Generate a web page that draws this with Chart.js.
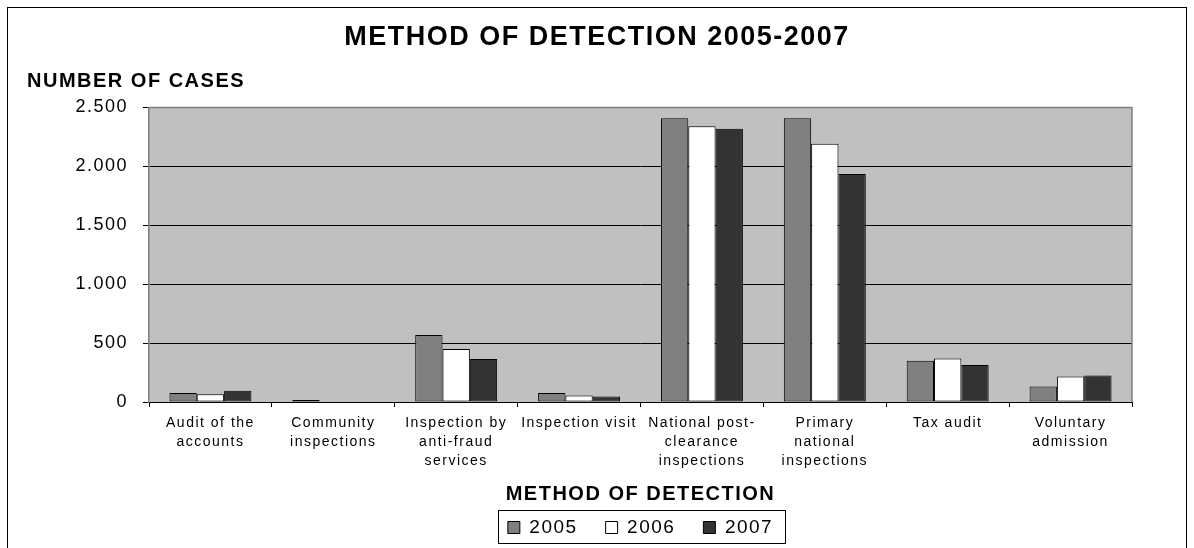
<!DOCTYPE html>
<html>
<head>
<meta charset="utf-8">
<script src="https://cdn.jsdelivr.net/npm/chart.js@4.4.1/dist/chart.umd.min.js"></script>
<style>
  html, body { margin: 0; padding: 0; background: #fff; }
  #wrap { position: relative; width: 1194px; height: 548px; overflow: hidden; }
  #frame { position: absolute; left: 7px; top: 7px; width: 1178px; height: 600px; border: 1.5px solid #000; }
  #chart { position: absolute; left: 0; top: 0; }
</style>
</head>
<body>
<div id="wrap">
  <div id="frame"></div>
  <canvas id="chart" width="1194" height="548"></canvas>
</div>
<script>
// dados
const categories = [
    ['Audit of the', 'accounts'],
    ['Community', 'inspections'],
    ['Inspection by', 'anti-fraud', 'services'],
    'Inspection visit',
    ['National post-', 'clearance', 'inspections'],
    ['Primary', 'national', 'inspections'],
    'Tax audit',
    ['Voluntary', 'admission']
];
const years = ['2005', '2006', '2007'];
const values2005 = [76, 17, 569, 76, 2407, 2407, 350, 132];
const values2006 = [65, 0, 450, 56, 2339, 2192, 370, 217];
const values2007 = [96, 0, 365, 47, 2319, 1935, 314, 225];
const yMax = 2500;
const yStep = 500;

const FONT = "'Liberation Sans', Arial, sans-serif";
Chart.defaults.color = '#000';
Chart.defaults.font.family = FONT;

// texto do Excel é mais largo, compensar com espaçamento
const spacingPlugin = {
    id: 'spacing',
    beforeLayout(chart) { chart.ctx.letterSpacing = '1.5px'; },
    beforeDraw(chart) { chart.ctx.letterSpacing = '1.5px'; }
};

// fundo cinza da área do gráfico e moldura
const plotAreaPlugin = {
    id: 'plotArea',
    beforeDraw(chart) {
        const { ctx, chartArea: a } = chart;
        ctx.save();
        ctx.fillStyle = '#c0c0c0';
        ctx.fillRect(a.left, a.top, a.right - a.left, a.bottom - a.top);
        ctx.restore();
    },
    beforeDatasetsDraw(chart) {
        const { ctx, chartArea: a } = chart;
        ctx.save();
        ctx.strokeStyle = '#808080';
        ctx.lineWidth = 1.5;
        ctx.beginPath();
        ctx.moveTo(a.left, a.top);
        ctx.lineTo(a.right, a.top);
        ctx.lineTo(a.right, a.bottom);
        ctx.stroke();
        ctx.restore();
    }
};

// caixa em volta da legenda
const legendBoxPlugin = {
    id: 'legendBox',
    afterDraw(chart) {
        const boxes = chart.legend && chart.legend.legendHitBoxes;
        if (!boxes || !boxes.length) return;
        const left = Math.min(...boxes.map(b => b.left)) - 10;
        const right = Math.max(...boxes.map(b => b.left + b.width)) + 12;
        const top = Math.min(...boxes.map(b => b.top)) - 8;
        const bottom = Math.max(...boxes.map(b => b.top + b.height)) + 6;
        const ctx = chart.ctx;
        ctx.save();
        ctx.strokeStyle = '#000';
        ctx.lineWidth = 1;
        ctx.strokeRect(Math.round(left) + 0.5, Math.round(top) + 0.5, Math.round(right - left), Math.round(bottom - top));
        ctx.restore();
    }
};

const ctx = document.getElementById('chart').getContext('2d');
new Chart(ctx, {
    type: 'bar',
    data: {
        labels: categories,
        datasets: [
            { label: years[0], data: values2005, backgroundColor: '#808080' },
            { label: years[1], data: values2006, backgroundColor: '#ffffff' },
            { label: years[2], data: values2007, backgroundColor: '#333333' }
        ].map(d => Object.assign(d, {
            borderColor: '#000',
            borderWidth: 1,
            borderSkipped: false,
            categoryPercentage: 0.667,
            barPercentage: 1
        }))
    },
    options: {
        responsive: false,
        animation: false,
        layout: { padding: { top: 0, left: 27, right: 27, bottom: 1 } },
        scales: {
            x: {
                grid: {
                    offset: true,
                    drawOnChartArea: false,
                    drawTicks: true,
                    tickLength: 5,
                    tickColor: '#000',
                    lineWidth: 1
                },
                border: { display: true, color: '#000', width: 1 },
                ticks: {
                    padding: 7,
                    maxRotation: 0,
                    autoSkip: false,
                    font: { size: 14, lineHeight: 19 / 14 },
                    color: '#000'
                },
                title: {
                    display: true,
                    text: 'METHOD OF DETECTION',
                    font: { size: 20, weight: 'bold', lineHeight: 1.2 },
                    padding: { top: 4, bottom: -16 },
                    color: '#000'
                }
            },
            y: {
                min: 0,
                max: yMax,
                afterFit(scale) { scale.width = 149 - 27; },
                ticks: {
                    stepSize: yStep,
                    padding: 15,
                    font: { size: 18 },
                    color: '#000',
                    callback: v => v.toLocaleString('de-DE')
                },
                grid: {
                    color: c => (c.tick && c.tick.value === yMax) ? '#808080' : '#000',
                    lineWidth: 1,
                    tickLength: 6,
                    tickColor: '#000'
                },
                border: { display: true, color: '#808080', width: 1.5 }
            },
            yPad: {
                position: 'right',
                display: true,
                afterFit(scale) { scale.width = 1167 - 1132; },
                ticks: { display: false },
                grid: { display: false, drawTicks: false },
                border: { display: false }
            }
        },
        plugins: {
            title: {
                display: true,
                text: 'METHOD OF DETECTION 2005-2007',
                font: { size: 27, weight: 'bold', lineHeight: 1.2 },
                padding: { top: 21, bottom: 12 },
                color: '#000'
            },
            subtitle: {
                display: true,
                text: 'NUMBER OF CASES',
                align: 'start',
                font: { size: 20, weight: 'bold', lineHeight: 1.2 },
                padding: { top: 4, bottom: 14 },
                color: '#000'
            },
            legend: {
                position: 'bottom',
                fullSize: false,
                labels: {
                    boxWidth: 12,
                    boxHeight: 12,
                    padding: 28,
                    font: { size: 19 },
                    color: '#000'
                }
            },
            tooltip: { enabled: false }
        }
    },
    plugins: [spacingPlugin, plotAreaPlugin, legendBoxPlugin]
});
</script>
</body>
</html>
